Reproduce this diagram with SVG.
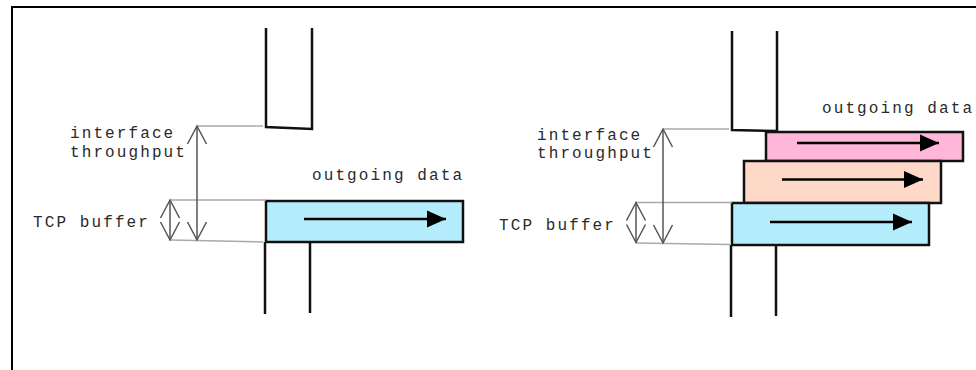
<svg xmlns="http://www.w3.org/2000/svg" width="976" height="370" viewBox="0 0 976 370">
<defs>
<style>
.frame{fill:none;stroke:#000;stroke-width:2}
.pipe{fill:none;stroke:#111;stroke-width:2.5;stroke-linejoin:miter}
.guide{fill:none;stroke:#aaa;stroke-width:1.5}
.dim{fill:none;stroke:#555;stroke-width:1.5}
.box{stroke:#111;stroke-width:2.5}
.blue{fill:#b4ecfb}
.peach{fill:#ffd9c8}
.pink{fill:#ffb6d8}
.flow{fill:none;stroke:#000;stroke-width:2.5}
.lbl{font-family:"Liberation Mono","Courier New",monospace;font-size:16px;letter-spacing:2.1px;fill:#2a2a2a}
</style>
<marker id="open" markerUnits="userSpaceOnUse" markerWidth="24" markerHeight="24" viewBox="-20 -12 24 24" refX="0" refY="0" orient="auto-start-reverse">
<path d="M-18,-9.5 L0,0 L-18,9.5" fill="none" stroke="#555" stroke-width="1.5"/>
</marker>
<marker id="solid" markerUnits="userSpaceOnUse" markerWidth="24" markerHeight="24" viewBox="-22 -12 24 24" refX="0" refY="0" orient="auto">
<path d="M0,0 L-19,-8.5 L-19,8.5 Z" fill="#000"/>
</marker>
</defs>
<rect class="frame" x="12" y="7" width="980" height="400"/>

<g id="left-top-pipe"><path class="pipe" d="M266,28 V127 L312,129 V28"/></g>
<g id="left-bottom-pipe"><path class="pipe" d="M265,242 V314 M310,242 V313"/></g>
<g id="left-buffer"><rect class="box blue" x="266" y="201" width="197" height="41"/></g>
<g id="left-label-interface"><text class="lbl" x="70" y="138">interface</text><text class="lbl" x="70" y="157">throughput</text></g>
<g id="left-label-tcp"><text class="lbl" x="33" y="227">TCP buffer</text></g>
<g id="left-label-out"><text class="lbl" x="312" y="180">outgoing data</text></g>

<g id="right-top-pipe"><path class="pipe" d="M732,31 V130 L777,131 V31"/></g>
<g id="right-bottom-pipe"><path class="pipe" d="M731,245 V317 M776,246 V316"/></g>
<g id="right-buffer-3"><rect class="box pink" x="766" y="132" width="197" height="29"/></g>
<g id="right-buffer-2"><rect class="box peach" x="744" y="161" width="197" height="42"/></g>
<g id="right-buffer-1"><rect class="box blue" x="732" y="203" width="197" height="42"/></g>
<g id="right-label-interface"><text class="lbl" x="537" y="140">interface</text><text class="lbl" x="537" y="158">throughput</text></g>
<g id="right-label-tcp"><text class="lbl" x="499" y="230">TCP buffer</text></g>
<g id="right-label-out"><text class="lbl" x="822" y="113">outgoing data</text></g>

<g id="connectors">
<path class="guide" d="M197,126 H263 M170,200 H266 M170,240 L263,242"/>
<path class="dim" d="M197,126 V240" marker-start="url(#open)" marker-end="url(#open)"/>
<path class="dim" d="M170,200 V240" marker-start="url(#open)" marker-end="url(#open)"/>
<path class="flow" d="M304,219 H446" marker-end="url(#solid)"/>

<path class="guide" d="M663,129 H729 M636,202.5 H732 M636,243 L730,244.5"/>
<path class="dim" d="M663,129 V243" marker-start="url(#open)" marker-end="url(#open)"/>
<path class="dim" d="M636,202.5 V242.5" marker-start="url(#open)" marker-end="url(#open)"/>
<path class="flow" d="M797,143 H939" marker-end="url(#solid)"/>
<path class="flow" d="M782,179.5 H923" marker-end="url(#solid)"/>
<path class="flow" d="M770,222 H912" marker-end="url(#solid)"/>
</g>
</svg>
